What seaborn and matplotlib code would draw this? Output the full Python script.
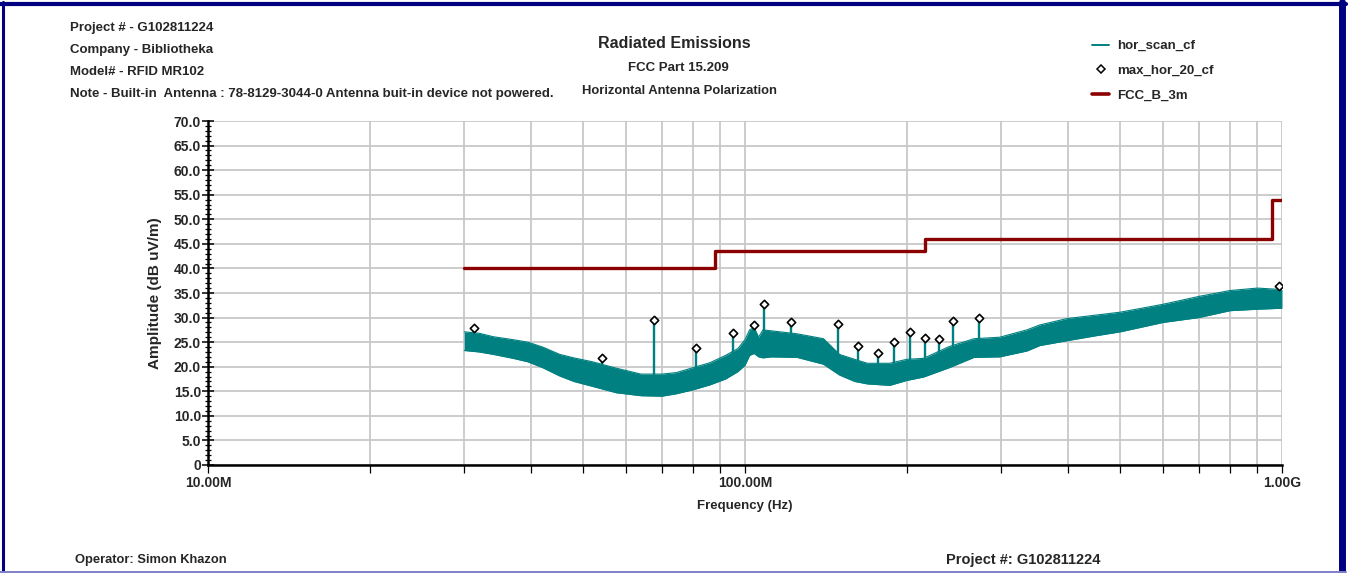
import numpy as np
import pandas as pd
import matplotlib
matplotlib.use("Agg")
import matplotlib.pyplot as plt
from matplotlib.lines import Line2D
from matplotlib.ticker import LogLocator, NullFormatter, MultipleLocator
import seaborn as sns

# ---------------- data ----------------
scan_freq_mhz = [30, 32, 34, 37, 39.4, 42, 45.2, 48, 52, 57.6, 64, 70, 74.5, 80, 86, 92, 97,
                 100, 102, 104, 106, 108, 112, 125, 140, 150, 160, 169, 186, 200, 215, 240,
                 267, 298, 335, 354, 398, 450, 500, 600, 700, 800, 900, 1000]
scan_low = [23.3, 23.0, 22.5, 21.7, 21.0, 19.8, 18.1, 17.0, 16.0, 14.7, 14.1, 14.0, 14.5, 15.3,
            16.3, 17.5, 19.0, 20.3, 22.3, 22.7, 22.0, 21.8, 22.0, 21.9, 20.5, 18.3, 17.0, 16.5,
            16.2, 17.2, 17.9, 19.8, 21.9, 22.0, 23.2, 24.3, 25.3, 26.3, 27.1, 29.0, 30.0, 31.4,
            31.7, 31.9]
scan_high = [27.1, 26.8, 26.1, 25.5, 25.0, 24.0, 22.5, 21.8, 21.0, 19.7, 18.5, 18.5, 18.8, 19.8,
             20.8, 22.3, 23.7, 25.5, 27.5, 28.0, 26.0, 27.5, 27.3, 26.7, 25.7, 22.5, 21.5, 20.7,
             20.7, 21.5, 21.7, 24.1, 25.7, 26.0, 27.5, 28.5, 29.8, 30.5, 31.1, 32.7, 34.3, 35.5,
             36.0, 35.7]

peak_freq_mhz = [31.3, 54.2, 67.7, 81.0, 95.0, 104, 108.5, 121.8, 149, 162, 177, 189.5, 203,
                 216, 230, 244, 273, 987]
peak_level = [27.9, 21.8, 29.5, 23.8, 26.9, 28.5, 32.8, 29.1, 28.7, 24.2, 22.8, 25.0, 27.1,
              25.8, 25.6, 29.3, 29.9, 36.4]
peak_base = [25.0, 18.0, 16.0, 17.5, 21.0, 25.0, 24.5, 24.5, 21.0, 19.0, 19.0, 18.5, 19.0,
             19.8, 21.0, 22.0, 24.0, 34.0]

limit_freq_mhz = [30, 88, 216, 960, 1000]
limit_level = [40.0, 43.5, 46.0, 54.0, 54.0]

x_tick_mhz = [10, 100, 1000]
x_tick_labels = ["10.00M", "100.00M", "1.00G"]
y_tick_values = [0, 5, 10, 15, 20, 25, 30, 35, 40, 45, 50, 55, 60, 65, 70]
y_tick_labels = ["0", "5.0", "10.0", "15.0", "20.0", "25.0", "30.0", "35.0", "40.0",
                 "45.0", "50.0", "55.0", "60.0", "65.0", "70.0"]

legend_labels = ["hor_scan_cf", "max_hor_20_cf", "FCC_B_3m"]

header_lines = ["Project # - G102811224", "Company - Bibliotheka", "Model# - RFID MR102",
                "Note - Built-in  Antenna : 78-8129-3044-0 Antenna buit-in device not powered."]
title_lines = ["Radiated Emissions", "FCC Part 15.209", "Horizontal Antenna Polarization"]

# ---------------- styling ----------------
TEAL = "#008080"
DARKRED = "#8B0000"
GRID = "#c8c8c8"
NAVY = "#000080"

sns.set_theme(style="white")
plt.rcParams["font.family"] = ["Liberation Sans", "DejaVu Sans"]
plt.rcParams["font.weight"] = "bold"

W, H = 1353, 573
fig = plt.figure(figsize=(W / 100, H / 100), dpi=100)
fig.patch.set_facecolor("white")


def fx(px):
    return px / W


def fy(py):
    return 1 - py / H


ax = fig.add_axes([fx(208), fy(465), fx(1282 - 208), (465 - 121) / H])
ax.set_facecolor("white")

scan = pd.DataFrame({"freq": np.array(scan_freq_mhz) * 1e6, "low": scan_low, "high": scan_high})
peaks = pd.DataFrame({"freq": np.array(peak_freq_mhz) * 1e6, "level": peak_level, "base": peak_base})
limit = pd.DataFrame({"freq": np.array(limit_freq_mhz) * 1e6, "level": limit_level})

# scan band
ax.fill_between(scan["freq"], scan["low"], scan["high"], color=TEAL, lw=0, zorder=3)
sns.lineplot(data=scan, x="freq", y="low", color=TEAL, lw=0.8, ax=ax, zorder=3)
sns.lineplot(data=scan, x="freq", y="high", color=TEAL, lw=0.8, ax=ax, zorder=3)

# peak stems and markers
ax.vlines(peaks["freq"], peaks["base"], peaks["level"], color=TEAL, lw=1.7, zorder=3)
sns.scatterplot(data=peaks, x="freq", y="level", marker="D", s=18, facecolor="white",
                edgecolor="black", linewidth=1.2, ax=ax, zorder=5)

# limit line
sns.lineplot(data=limit, x="freq", y="level", drawstyle="steps-post", color=DARKRED,
             lw=2.4, ax=ax, zorder=4)

# axes
ax.set_xscale("log")
ax.set_xlim(1e7, 1e9)
ax.set_ylim(0, 70)
ax.set_xticks(np.array(x_tick_mhz) * 1e6, labels=x_tick_labels)
ax.xaxis.set_minor_locator(LogLocator(base=10, subs=np.arange(2, 10)))
ax.xaxis.set_minor_formatter(NullFormatter())
ax.set_yticks(y_tick_values, labels=y_tick_labels)
ax.yaxis.set_minor_locator(MultipleLocator(1))

ax.set_axisbelow(True)
ax.grid(which="both", axis="x", color=GRID, lw=1.3)
ax.grid(which="major", axis="y", color=GRID, lw=1.3)

for s in ["top", "right"]:
    ax.spines[s].set_visible(False)
for s in ["left", "bottom"]:
    ax.spines[s].set_color("black")
    ax.spines[s].set_linewidth(1.8)
    ax.spines[s].set_zorder(6)

ax.tick_params(axis="y", which="major", direction="inout", length=8, width=1.1,
               color="black", labelsize=10, pad=1, left=True)
ax.tick_params(axis="y", which="minor", direction="inout", length=5, width=0.9,
               color="black", left=True)
ax.tick_params(axis="x", which="both", direction="out", length=6, width=0.9,
               color="black", labelsize=10, pad=2, bottom=True)
for lab in ax.get_xticklabels() + ax.get_yticklabels():
    lab.set_fontweight("bold")

ax.set_xlabel("Frequency (Hz)", fontsize=9.5, fontweight="bold")
ax.set_ylabel("Amplitude (dB uV/m)", fontsize=11, fontweight="bold")
ax.xaxis.set_label_coords(0.5, (465 - 500) / 344)
ax.yaxis.set_label_coords((162 - 208) / 1074, 0.5)

# legend
handles = [Line2D([], [], color=TEAL, lw=1.4),
           Line2D([], [], marker="D", ls="none", mfc="white", mec="black", ms=4, mew=1.1),
           Line2D([], [], color=DARKRED, lw=2.6)]
fig.legend(handles, legend_labels, loc="upper left", bbox_to_anchor=(fx(1092), fy(40)),
           frameon=False, fontsize=9.5, handlelength=1.3, handletextpad=0.6,
           labelspacing=0.95, borderaxespad=0, borderpad=0)

# header texts
for i, t in enumerate(header_lines):
    fig.text(fx(70), fy(28 + 22 * i), t, ha="left", va="center", fontsize=9.5, fontweight="bold")
fig.text(fx(674), fy(43), title_lines[0], ha="center", va="center", fontsize=11.5, fontweight="bold")
fig.text(fx(678), fy(68), title_lines[1], ha="center", va="center", fontsize=9.5, fontweight="bold")
fig.text(fx(679), fy(91), title_lines[2], ha="center", va="center", fontsize=9.4, fontweight="bold")

# footer
fig.text(fx(75), fy(560), "Operator: Simon Khazon", ha="left", va="center", fontsize=9.3,
         fontweight="bold")
fig.text(fx(946), fy(560), "Project #: G102811224", ha="left", va="center", fontsize=10.5,
         fontweight="bold")

# frame
fig.add_artist(Line2D([0, fx(1346)], [fy(4), fy(4)], color=NAVY, lw=3, transform=fig.transFigure))
fig.add_artist(Line2D([fx(3), fx(3)], [fy(2), fy(573)], color=NAVY, lw=2.2, transform=fig.transFigure))
fig.add_artist(Line2D([fx(1342), fx(1342)], [fy(2), fy(573)], color=NAVY, lw=5, transform=fig.transFigure))
fig.add_artist(Line2D([0, fx(1346)], [fy(571.5), fy(571.5)], color="#7f7fc8", lw=1.4,
                      transform=fig.transFigure))

fig.savefig("out.png", dpi=100, facecolor="white")
